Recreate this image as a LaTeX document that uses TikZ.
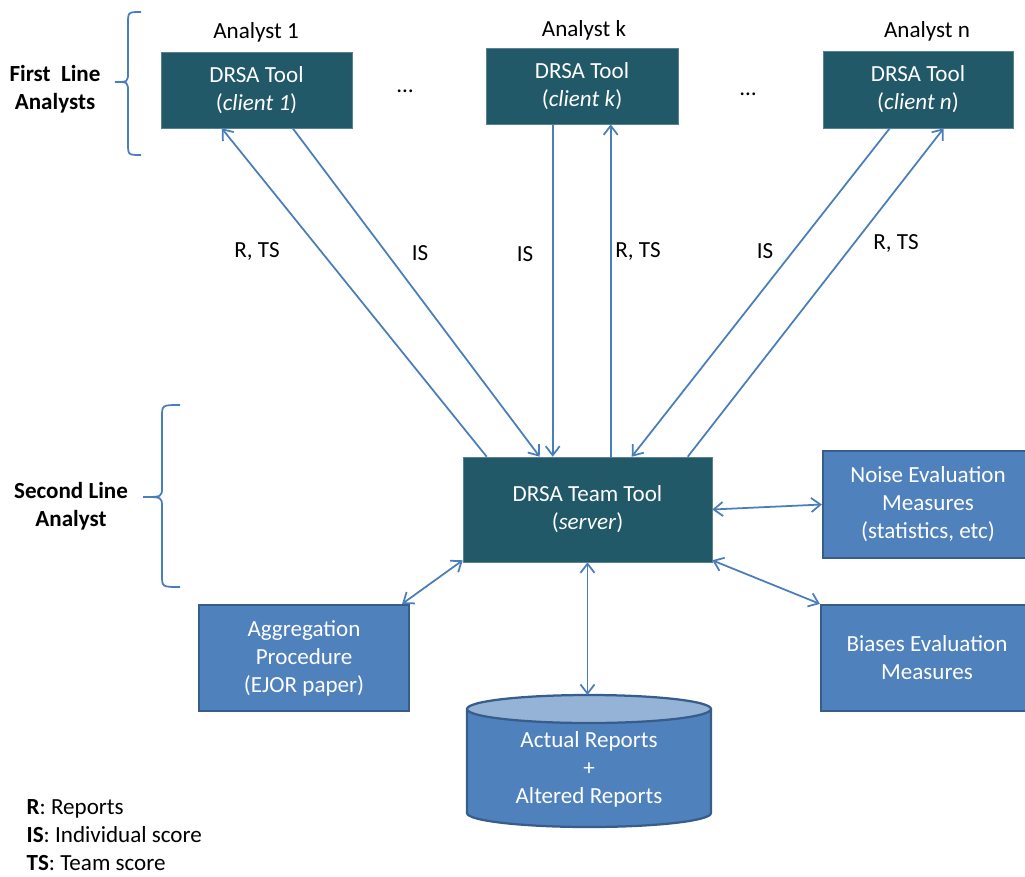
\documentclass[tikz,border=0pt]{standalone}
\usepackage{fontspec}
\setmainfont{Carlito}
\usetikzlibrary{arrows.meta,calc}
\definecolor{tooldark}{HTML}{215968}
\definecolor{boxblue}{HTML}{4F81BD}
\definecolor{boxedge}{HTML}{385D8A}
\definecolor{lineblue}{HTML}{4A7EBB}
\definecolor{toplight}{HTML}{95B3D7}
\begin{document}
\begin{tikzpicture}[x=0.025cm, y=-0.025cm,
        every node/.style={font=\fontsize{16.4pt}{19.9pt}\selectfont},
        tool/.style 2 args={rectangle,
        draw=tooldark!75!white,
        line width=0.4pt,
        fill=tooldark,
        text=white,
        align=center,
        minimum width=#1*0.025cm,
        minimum height=#2*0.025cm},
        measure/.style 2 args={rectangle,
        draw=boxedge,
        line width=1.6pt,
        fill=boxblue,
        text=white,
        align=center,
        minimum width=#1*0.025cm,
        minimum height=#2*0.025cm},
        side/.style={font=\fontsize{16.4pt}{19.9pt}\selectfont\bfseries, align=center},
        link/.style={draw=lineblue, line width=1.25pt, -{Straight Barb[length=6.5pt,width=10pt]}},
        twoway/.style={link, {Straight Barb[length=6.5pt,width=10pt]}-{Straight Barb[length=6.5pt,width=10pt]}},
        bracket/.style={draw=lineblue, line width=1.25pt},
        ]
        \clip (0,0) rectangle (1025,876);

        % first line analysts
        \node[tool={191}{76}] (c1) at (256.5,90) {DRSA Tool\\(\textit{client 1})};
        \node[tool={192}{76}] (ck) at (582,86) {DRSA Tool\\(\textit{client k})};
        \node[tool={190}{77}] (cn) at (918,89.5) {DRSA Tool\\(\textit{client n})};
        \node (a1) at (256,32) {Analyst 1};
        \node (ak) at (584,30) {Analyst k};
        \node (an) at (927,31) {Analyst n};
        \node (dots1) at (405,91) {…};
        \node (dots2) at (748,94) {…};

        % second line analyst
        \node[tool={249}{105}] (srv) at (587.5,509.5) {DRSA Team Tool\\(\textit{server})};
        \node[measure={210}{107}] (noise) at (928,504.5) {Noise Evaluation\\Measures\\(statistics, etc)};
        \node[measure={212}{106}] (bias) at (927,658) {Biases Evaluation\\Measures};
        \node[measure={210}{106}] (agg) at (304,658) {Aggregation\\Procedure\\(EJOR paper)};

        % reports store
        \draw[boxedge, line width=1.6pt, fill=boxblue] (467,709) -- (467,813)
            arc[start angle=180, end angle=0, x radius=122, y radius=14] -- (711,709);
        \draw[boxedge, line width=1.6pt, fill=toplight] (589,709) ellipse[x radius=122, y radius=14];
        \coordinate (storetop) at (589,695);
        \node[text=white, align=center] (store) at (589,769) {Actual Reports\\+\\Altered Reports};

        % braces
        \draw[bracket] (141,12) .. controls (128,12) .. (128,24) -- (128,72)
            .. controls (128,82) .. (115,82) .. controls (128,82) .. (128,92)
            -- (128,143) .. controls (128,155) .. (141,155);
        \draw[bracket] (180,405) .. controls (162,405) .. (162,417) -- (162,487)
            .. controls (162,497) .. (143,497) .. controls (162,497) .. (162,507)
            -- (162,575) .. controls (162,587) .. (180,587);
        \node[side] (first) at (55,89) {First~~Line\\Analysts};
        \node[side] (second) at (71,506) {Second Line\\Analyst};

        % client <-> server
        \draw[link] ($(srv.north west)+(24,0)$) -- ($(c1.south west)+(61,0)$);
        \draw[link] ($(c1.south west)+(132,0)$) -- ($(srv.north west)+(77,0)$);
        \draw[link] ($(ck.south west)+(67,0)$) -- ($(srv.north west)+(90,0)$);
        \draw[link] ($(srv.north west)+(148,0)$) -- ($(ck.south west)+(125,0)$);
        \draw[link] ($(cn.south west)+(67,0)$) -- ($(srv.north west)+(169,0)$);
        \draw[link] ($(srv.north west)+(225,0)$) -- ($(cn.south west)+(121,0)$);
        \node (l1) at (257,251) {R, TS};
        \node (l2) at (420,253) {IS};
        \node (l3) at (525,254) {IS};
        \node (l4) at (638,251) {R, TS};
        \node (l5) at (765,251) {IS};
        \node (l6) at (896,243) {R, TS};

        % server <-> measures
        \draw[twoway] (srv.east) -- (noise.west);
        \draw[twoway] ($(srv.south east)+(0,-2)$) -- (bias.north west);
        \draw[twoway] ($(srv.south west)+(0,-2)$) -- ($(agg.north east)+(-8,0)$);
        \draw[twoway] (srv.south) -- (srv.south |- storetop);

        % legend
        \node[anchor=west, align=left, inner sep=1pt] (legend) at (25,835) {\textbf{R}: Reports\\\textbf{IS}: Individual score\\\textbf{TS}: Team score};
\end{tikzpicture}
\end{document}
